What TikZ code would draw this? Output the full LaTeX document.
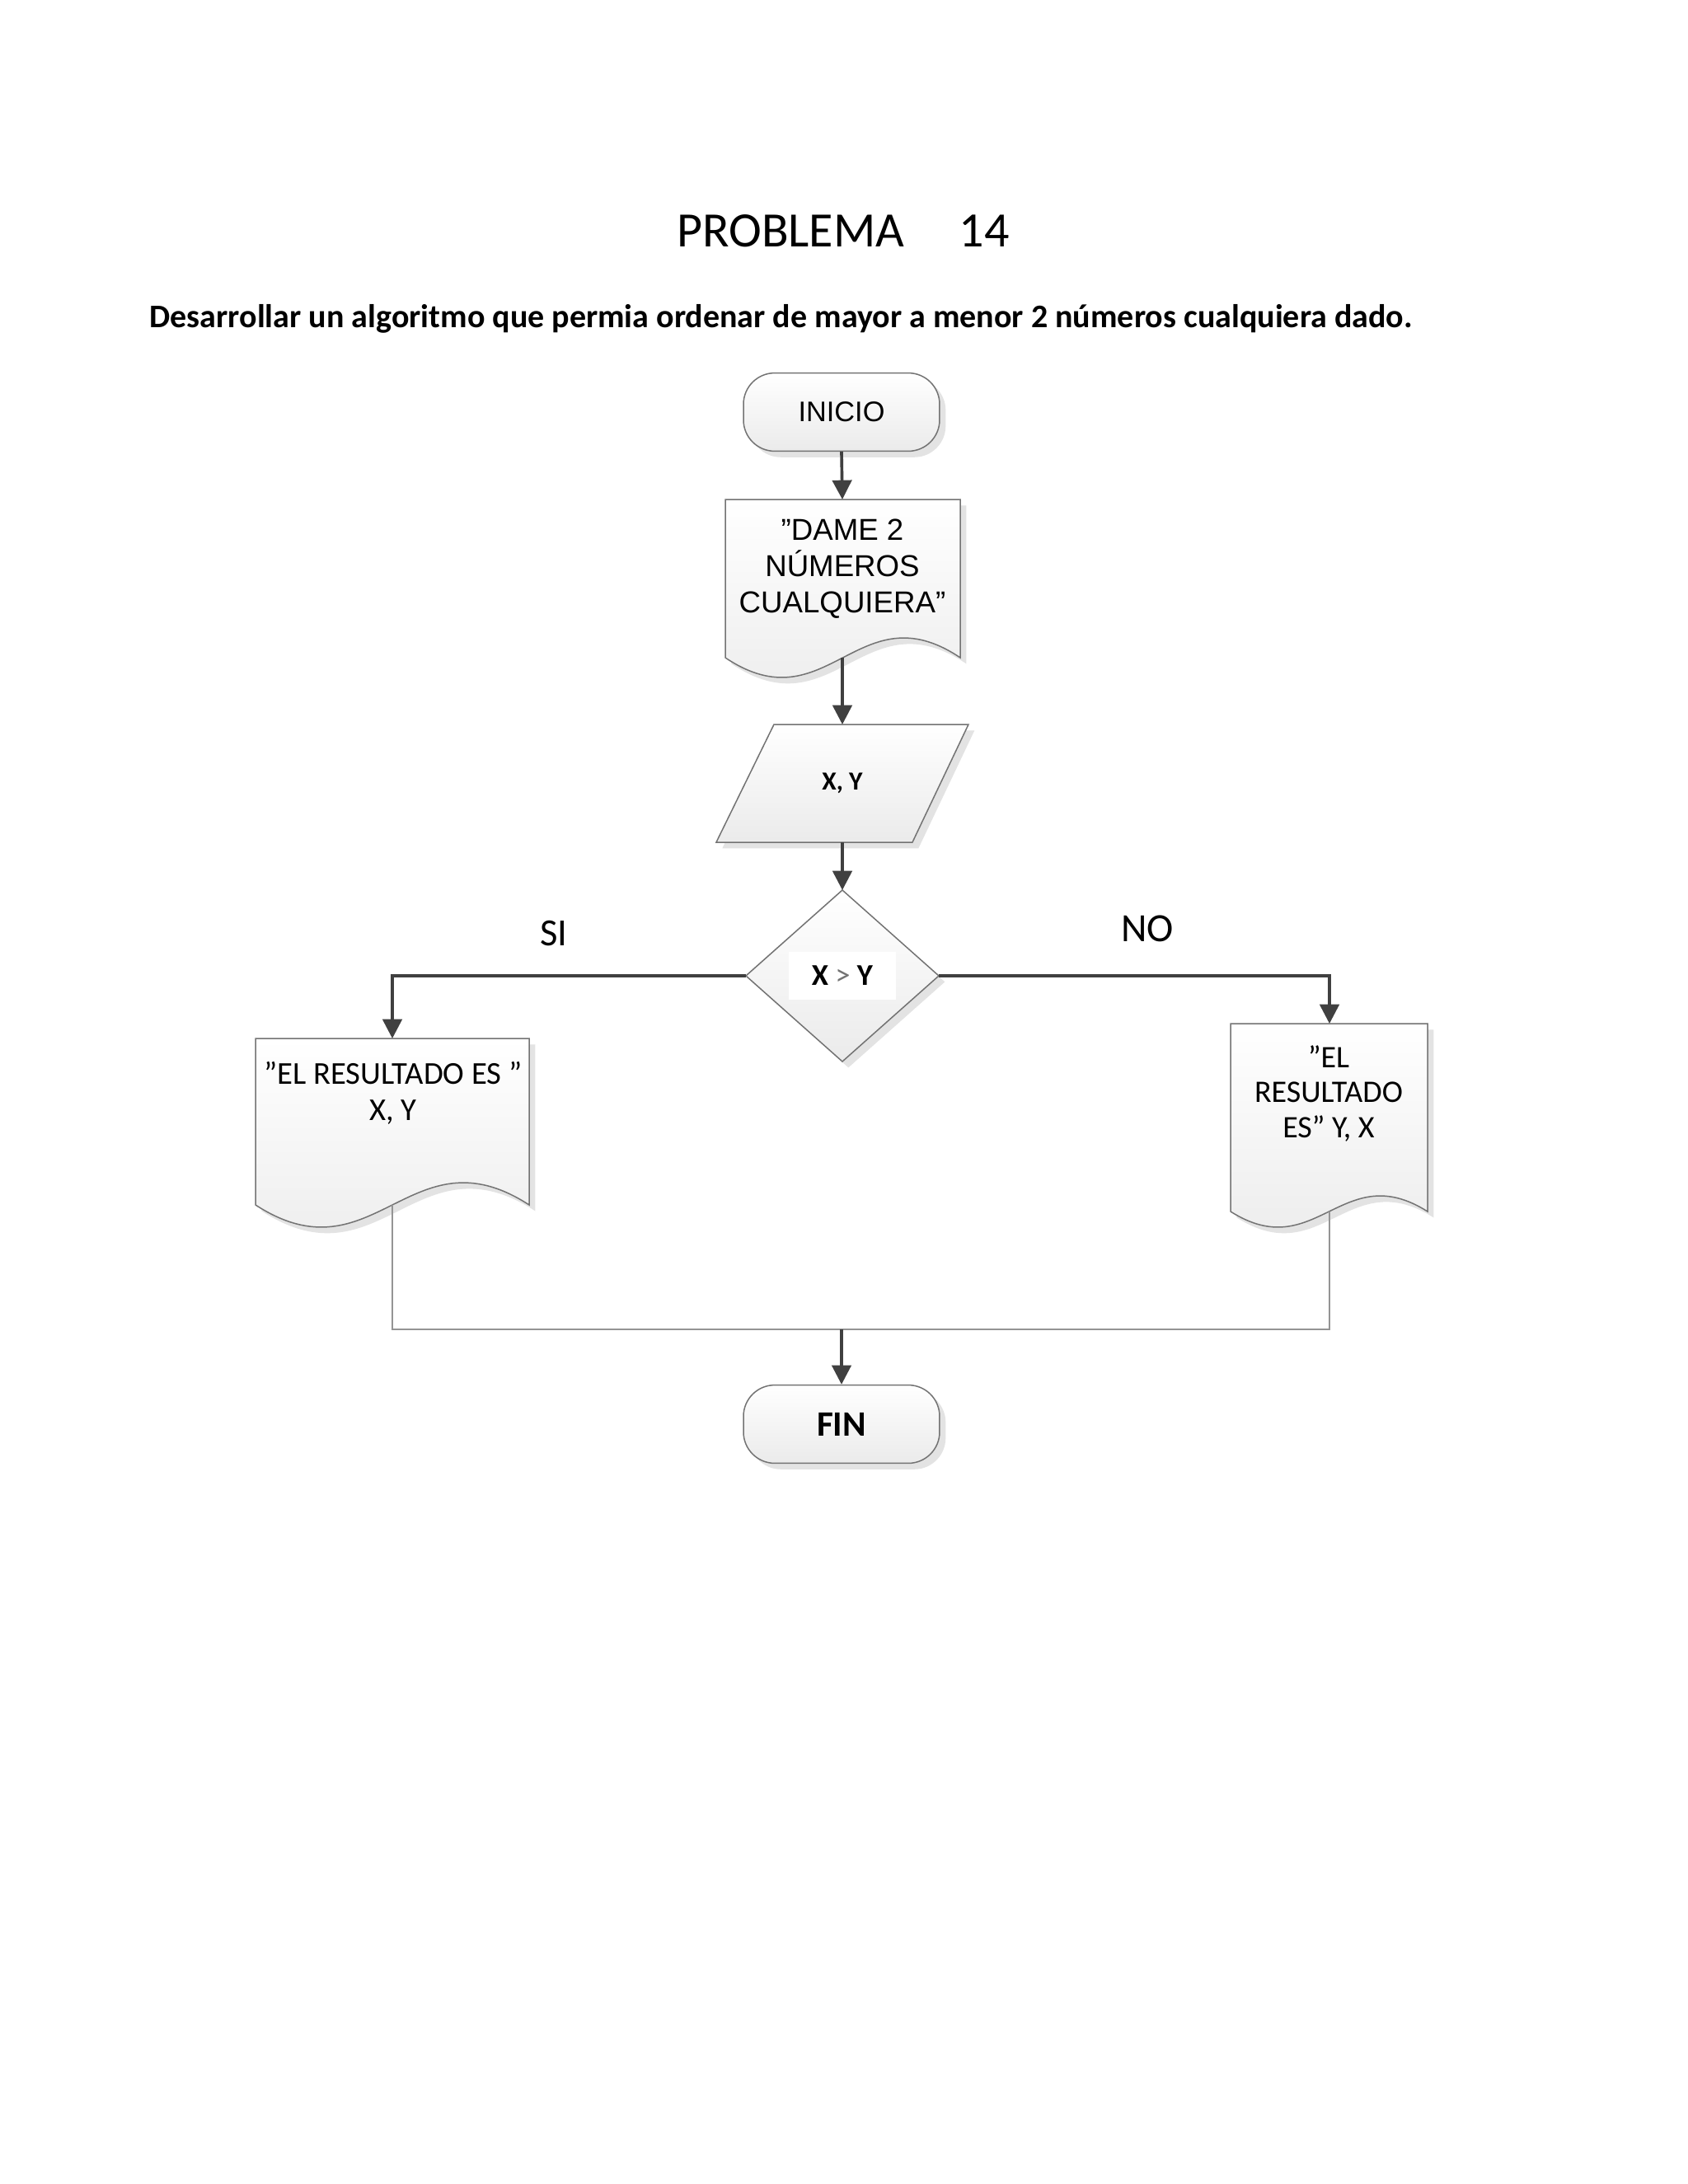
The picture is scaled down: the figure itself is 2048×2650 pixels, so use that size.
\documentclass[tikz,border=0pt]{standalone}
\usepackage{fontspec}
\setmainfont{Carlito}
\newfontfamily\arialf{Liberation Sans}
\usetikzlibrary{arrows.meta,shadows}
\begin{document}
\begin{tikzpicture}[x=0.010541cm,y=-0.010541cm,
  shp/.style={draw=black!55, line width=0.45pt, top color=white, bottom color=black!8,
    drop shadow={shadow xshift=2.2pt, shadow yshift=-2.2pt, fill=black!11, opacity=1}},
  term/.style={shp, rounded corners=0.4cm, minimum width=2.509cm, minimum height=1.0cm, inner sep=0pt},
  arr/.style={draw=black!75, line width=1.1pt, -{Triangle[length=7pt,width=7pt]}},
  merge/.style={draw=black!42, line width=0.65pt},
  txt/.style={align=center, inner sep=0pt}]
\fill[white] (0,0) rectangle (2048,2650);
\useasboundingbox (0,0) rectangle (2048,2650);

% headings
\node[anchor=base, inner sep=0pt, font=\fontsize{18}{21}\selectfont] (title) at (1023,299) {PROBLEMA\hspace{20pt}14};
\node[anchor=base west, inner sep=0pt, font=\fontsize{12}{14}\selectfont\bfseries] (subtitle) at (181,397)
  {Desarrollar un algoritmo que permia ordenar de mayor a menor 2 números cualquiera dado.};

% INICIO
\node[term, font=\arialf\fontsize{10.3}{12}\selectfont] (inicio) at (1021,500) {INICIO};

% document "DAME 2 NUMEROS"
\path[shp] (880,606) -- (1165,606) -- (1165,798) .. controls (1041.3,715) and (1003.7,881) .. (880,798) -- cycle;
\coordinate (dame-top) at (1022,606);
\coordinate (dame-bot) at (1022,798);
\node[txt, font=\arialf\fontsize{11}{13.1}\selectfont] (dame) at (1022,690) {”DAME 2\\NÚMEROS\\CUALQUIERA”};

% input X, Y
\path[shp] (939,879) -- (1175,879) -- (1107,1022) -- (869,1022) -- cycle;
\coordinate (xy-top) at (1022,879);
\coordinate (xy-bot) at (1022,1022);
\node[txt, font=\fontsize{9.5}{11}\selectfont\bfseries] (xy) at (1022,950) {X, Y};

% decision
\path[shp] (1022,1080) -- (1139,1184) -- (1022,1288) -- (905,1184) -- cycle;
\coordinate (d-top) at (1022,1080);
\coordinate (d-left) at (905,1184);
\coordinate (d-right) at (1139,1184);
\node[fill=white, minimum width=1.38cm, minimum height=0.61cm, inner sep=0pt, font=\fontsize{11}{13}\selectfont] (cond) at (1022,1184)
  {\textbf{X} {\color{black!55}>} \textbf{Y}};

% SI / NO labels
\node[font=\fontsize{14}{16}\selectfont, inner sep=0pt] (si) at (672,1132) {SI};
\node[font=\fontsize{14.6}{16}\selectfont, inner sep=0pt] (no) at (1392,1127) {NO};

% left document
\path[shp] (310,1260) -- (642,1260) -- (642,1462) .. controls (498,1368.6) and (454,1555.4) .. (310,1462) -- cycle;
\coordinate (si-top) at (476,1260);
\coordinate (si-bot) at (476,1462);
\node[txt, font=\fontsize{11.6}{13.3}\selectfont] (outsi) at (477,1326) {”EL RESULTADO ES ”\\X, Y};

% right document
\path[shp] (1493,1242) -- (1732,1242) -- (1732,1470) .. controls (1628.3,1404.3) and (1596.7,1535.7) .. (1493,1470) -- cycle;
\coordinate (no-top) at (1613,1242);
\coordinate (no-bot) at (1613,1470);
\node[txt, font=\fontsize{11.4}{12.8}\selectfont] (outno) at (1612,1327) {”EL\\RESULTADO\\ES” Y, X};

% FIN
\node[term, font=\fontsize{13}{15}\selectfont\bfseries] (fin) at (1021,1728) {FIN};

% connectors
\coordinate (join) at (1021,1613);
\draw[arr] (inicio.south) -- (dame-top);
\draw[arr] (dame-bot) -- (xy-top);
\draw[arr] (xy-bot) -- (d-top);
\draw[arr] (d-left) -| (si-top);
\draw[arr] (d-right) -| (no-top);
\draw[merge] (si-bot) |- (join) -| (no-bot);
\draw[arr] (join) -- (fin.north);
\end{tikzpicture}
\end{document}
